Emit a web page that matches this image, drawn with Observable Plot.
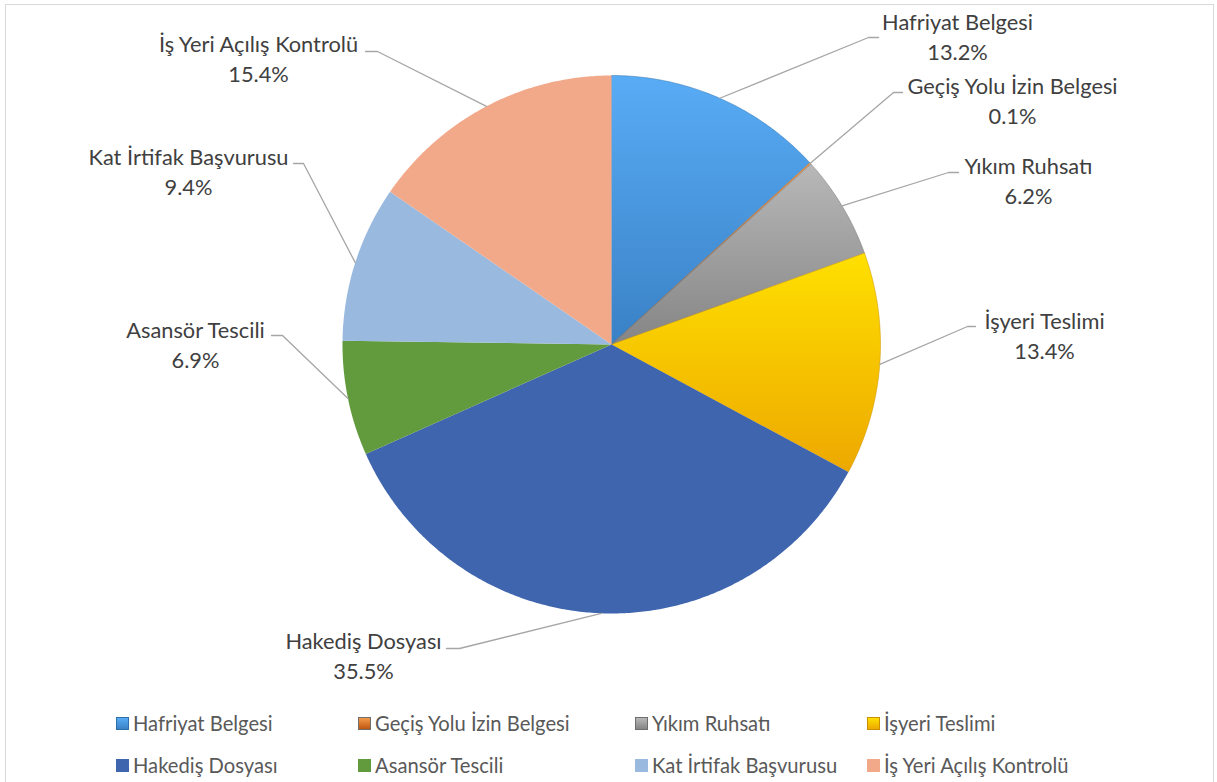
<!DOCTYPE html>
<html><head><meta charset="utf-8">
<script src="https://cdn.jsdelivr.net/npm/d3@7"></script>
<script src="https://cdn.jsdelivr.net/npm/@observablehq/plot@0.6"></script>
<style>
body{margin:0;background:#fff;font-family:Lato,"Open Sans",sans-serif;}
#wrap{position:relative;width:1217px;height:782px;overflow:hidden;background:#fff;}
#frame{position:absolute;left:5px;top:4px;width:1209px;height:840px;border:1.5px solid #d9d9d9;box-sizing:border-box;}
#chart{position:absolute;left:0;top:0;}
#legend{position:absolute;left:0;top:700px;width:1217px;height:82px;}
.item{position:absolute;display:flex;align-items:center;font-size:20.2px;color:#595959;white-space:nowrap;line-height:1;}
.sw{width:13px;height:13px;margin-right:4px;box-sizing:border-box;flex:none;}
</style></head>
<body><div id="wrap"><div id="frame"></div><div id="chart"></div><div id="legend"></div></div>
<script>
// ---- data ----
const categories = ["Hafriyat Belgesi","Geçiş Yolu İzin Belgesi","Yıkım Ruhsatı","İşyeri Teslimi","Hakediş Dosyası","Asansör Tescili","Kat İrtifak Başvurusu","İş Yeri Açılış Kontrolü"];
const percents = [13.2, 0.1, 6.2, 13.4, 35.5, 6.9, 9.4, 15.4];

// ---- styles ----
const gradTop = ["#58acf5","#f39a4a","#b8b8b8","#ffe000","#3e65ad","#629a3e","#99b9df","#f1a98a"];
const gradBot = ["#3a81c6","#c0560f","#858585","#eda800","#3e65ad","#629a3e","#99b9df","#f1a98a"];
const beveled = [true,true,true,true,false,false,false,false];
const strokes = ["#2f6fa8","#6e6e6e","#6e6e6e","#c99000","none","none","none","none"];

// ---- layout ----
const W = 1217, H = 700;
const cx = 611, cy = 344, R = 269;
const labelAt = [[957,35],[1012,98.5],[1028,179],[1044,333.5],[363,654],[195,342.5],[188,170],[258,57]];
const elbowAt = [[868,37],[893,92],[948,172],[967,326],[459,648],[282,335],[303,163],[377,51]];
const tailAt  = [[878,37],[902,92],[958,172],[975,326],[446,648],[271,335],[293,163],[365,51]];

const rows = categories.map((name, i) => ({name, value: percents[i], i}));
const arcs = d3.pie().sort(null).value(d => d.value)(rows);
const pt = (a, r) => ({x: cx + r * Math.sin(a), y: cy - r * Math.cos(a)});

const slicePts = [];
arcs.forEach(a => {
  const i = a.data.i;
  slicePts.push({i, ...pt(0, 0)});
  const n = Math.max(2, Math.ceil((a.endAngle - a.startAngle) / (Math.PI / 360)));
  for (let k = 0; k <= n; k++) {
    const t = a.startAngle + (a.endAngle - a.startAngle) * k / n;
    slicePts.push({i, ...pt(t, R)});
  }
});

const leaderPts = [];
arcs.forEach(a => {
  const i = a.data.i;
  const mid = (a.startAngle + a.endAngle) / 2;
  leaderPts.push({i, ...pt(mid, R)});
  leaderPts.push({i, x: elbowAt[i][0], y: elbowAt[i][1]});
  leaderPts.push({i, x: tailAt[i][0], y: tailAt[i][1]});
});

const labels = rows.map(d => ({
  x: labelAt[d.i][0], y: labelAt[d.i][1],
  text: `${d.name}\n${d.value.toFixed(1)}%`
}));

const fillFor = i => beveled[i] ? `url(#g${i})` : gradTop[i];

const plot = Plot.plot({
  width: W, height: H,
  margin: 0,
  x: {domain: [0, W], range: [0, W], axis: null},
  y: {domain: [0, H], range: [0, H], axis: null},
  style: {fontFamily: "Lato, 'Open Sans', sans-serif", background: "transparent"},
  marks: [
    ...rows.map(d => Plot.line(slicePts.filter(p => p.i === d.i), {
      x: "x", y: "y", curve: "linear-closed",
      fill: fillFor(d.i), stroke: strokes[d.i], strokeWidth: 0.8, strokeOpacity: 0.6
    })),
    Plot.line(leaderPts, {x: "x", y: "y", z: "i", stroke: "#a6a6a6", strokeWidth: 1.3}),
    Plot.text(labels, {
      x: "x", y: "y", text: "text",
      textAnchor: "middle", lineAnchor: "middle", lineHeight: 1.38,
      fontSize: 21.8, fill: "#404040"
    })
  ]
});

// gradient defs for the beveled slices
const svg = d3.select(plot);
const defs = svg.insert("defs", ":first-child");
rows.forEach(d => {
  if (!beveled[d.i]) return;
  const g = defs.append("linearGradient").attr("id", `g${d.i}`)
    .attr("x1", 0).attr("y1", 0).attr("x2", 0).attr("y2", 1);
  g.append("stop").attr("offset", "0%").attr("stop-color", gradTop[d.i]);
  g.append("stop").attr("offset", "100%").attr("stop-color", gradBot[d.i]);
});
document.getElementById("chart").append(plot);

// legend
const legCols = [116, 358, 635, 867];
const legRows = [23, 65];
const legend = document.getElementById("legend");
rows.forEach(d => {
  const it = document.createElement("div");
  it.className = "item";
  it.style.left = legCols[d.i % 4] + "px";
  it.style.top = (legRows[Math.floor(d.i / 4)] - 11) + "px";
  it.style.height = "22px";
  const sw = document.createElement("span");
  sw.className = "sw";
  if (beveled[d.i]) {
    sw.style.background = `linear-gradient(${gradTop[d.i]}, ${gradBot[d.i]})`;
    sw.style.border = `1px solid ${strokes[d.i]}`;
  } else {
    sw.style.background = gradTop[d.i];
  }
  const tx = document.createElement("span");
  tx.textContent = d.name;
  it.append(sw, tx);
  legend.append(it);
});
</script>
</body></html>
